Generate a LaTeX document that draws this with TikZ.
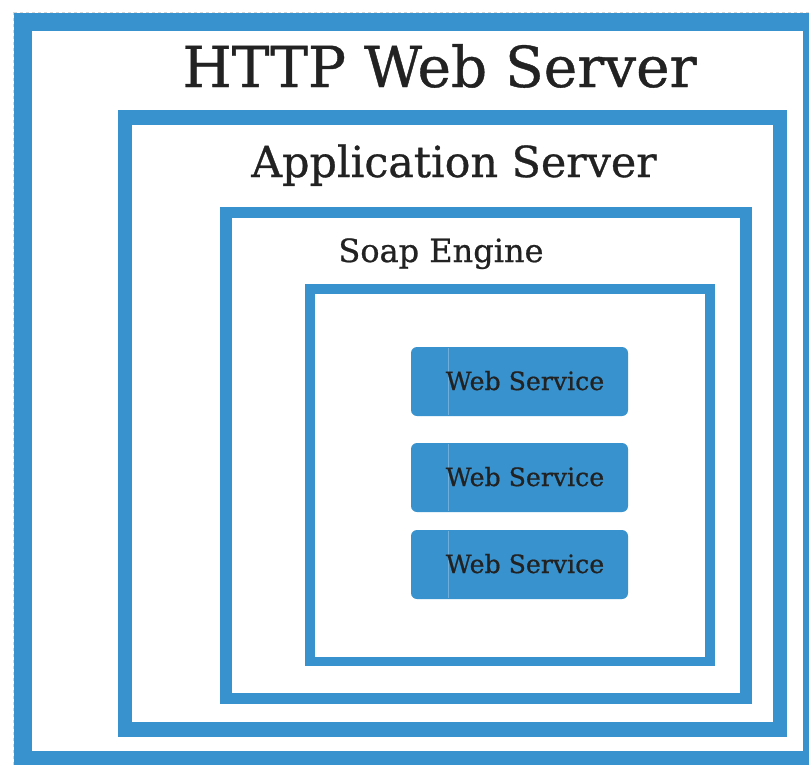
\documentclass[tikz,border=0pt]{standalone}
\usepackage{fontspec}
\setmainfont[FakeBold=0.6]{DejaVu Serif}
\newfontfamily\lblfont[FakeBold=0.7]{DejaVu Serif}
\definecolor{frameblue}{RGB}{55,146,206}
\definecolor{seamblue}{RGB}{110,175,220}
\definecolor{txtgrey}{RGB}{34,34,34}
\definecolor{dashgrey}{RGB}{215,215,215}
\begin{document}
\begin{tikzpicture}[x=1pt,y=-1pt,
  frame/.style={draw=frameblue},
  wsbox/.style={fill=frameblue,rounded corners=6pt},
  seam/.style={draw=seamblue,line width=0.8pt},
  lbl/.style={text=txtgrey,inner sep=0pt,anchor=base}]
\useasboundingbox (0,0) rectangle (809,764);
\clip (0,0) rectangle (809,764);
\fill[white] (0,0) rectangle (809,764);
% page edge
\draw[dashgrey,dashed,line width=0.8pt] (13,12) rectangle (830,790);
% frames
\draw[frame,line width=18pt] (23,22) rectangle (812,760);
\draw[frame,line width=14.5pt] (125,117.5) rectangle (780,729.5);
\draw[frame,line width=11.5pt] (226,212.5) rectangle (746,698.5);
\draw[frame,line width=9.5pt] (310,289) rectangle (710,661.5);
% titles
\node[lbl,font=\lblfont\fontsize{56.5}{60}\selectfont] (http) at (439.5,87) {HTTP Web Server};
\node[lbl,font=\lblfont\fontsize{42.8}{45}\selectfont] (app) at (454,177) {Application Server};
\node[lbl,font=\lblfont\fontsize{32}{35}\selectfont] (soap) at (441,262) {Soap Engine};
% web services
\foreach \i/\t/\b in {1/347/416, 2/443/512, 3/530/599}{
  \fill[wsbox] (411,\t) rectangle (628,\b);
  \draw[seam] (448,\t+1) -- (448,\b-1);
}
\node[lbl,font=\lblfont\fontsize{25.2}{27}\selectfont] (ws1) at (525,390) {Web Service};
\node[lbl,font=\lblfont\fontsize{25.2}{27}\selectfont] (ws2) at (525,486) {Web Service};
\node[lbl,font=\lblfont\fontsize{25.2}{27}\selectfont] (ws3) at (525,573) {Web Service};
\end{tikzpicture}
\end{document}
